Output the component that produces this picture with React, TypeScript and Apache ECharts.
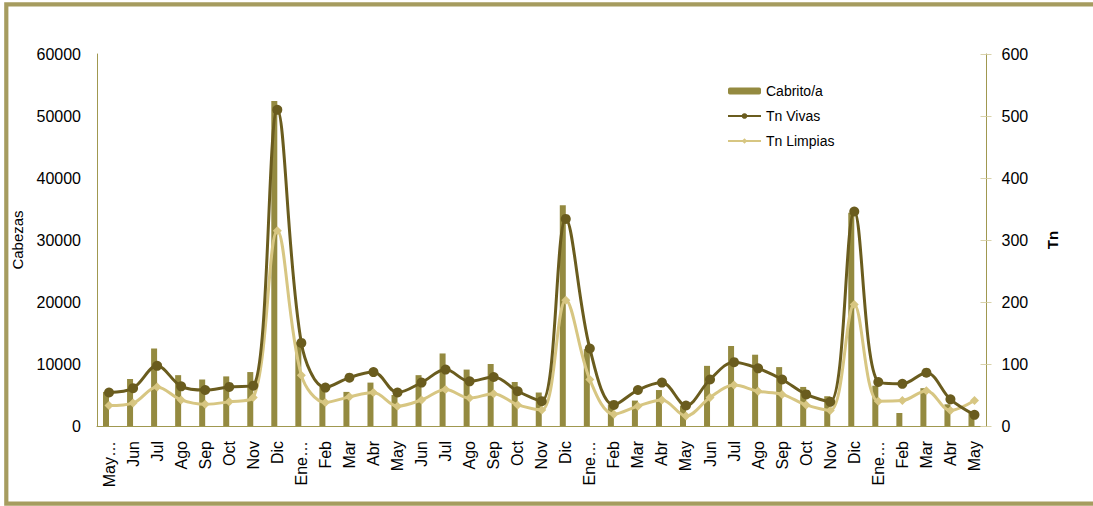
import React, { useEffect, useRef } from "react";
import * as echarts from "echarts";

const categories = ["May…","Jun","Jul","Ago","Sep","Oct","Nov","Dic","Ene…","Feb","Mar","Abr","May","Jun","Jul","Ago","Sep","Oct","Nov","Dic","Ene…","Feb","Mar","Abr","May","Jun","Jul","Ago","Sep","Oct","Nov","Dic","Ene…","Feb","Mar","Abr","May"];
const cabrito = [5500, 7600, 12500, 8200, 7500, 8000, 8700, 52400, 13500, 6300, 5500, 7000, 5000, 8200, 11700, 9100, 10000, 7100, 5400, 35600, 12400, 3500, 4100, 5800, 3300, 9700, 12900, 11500, 9500, 6300, 4800, 34400, 6500, 2100, 6100, 3500, 2200];
const tnVivas = [54, 61, 97, 64, 58, 63, 65, 510, 134, 62, 78, 87, 54, 70, 91, 72, 79, 56, 40, 334, 125, 34, 58, 70, 33, 75, 103, 93, 75, 51, 39, 346, 71, 68, 86, 43, 18];
const tnLimpias = [33, 37, 63, 42, 35, 39, 46, 315, 82, 38, 47, 54, 32, 42, 59, 45, 52, 34, 26, 203, 75, 19, 32, 42, 16, 46, 66, 56, 51, 34, 25, 196, 40, 41, 57, 25, 41];
const seriesNames = ["Cabrito/a", "Tn Vivas", "Tn Limpias"];

const FONT = "'Liberation Sans', Arial, sans-serif";
const BAR = "#948A40";
const DARK = "#6A5C1E";
const LIGHT = "#D7C682";
const AXIS = "#A09850";
const FRAME = "#A69C5F";

export default function App() {
  const ref = useRef<HTMLDivElement>(null);
  useEffect(() => {
    if (!ref.current) return;
    const chart = echarts.init(ref.current, undefined, { renderer: "svg" });
    chart.setOption({
      animation: false,
      backgroundColor: "#fff",
      textStyle: { fontFamily: FONT },
      graphic: [
        {
          type: "rect",
          shape: { x: 6.3, y: 4.4, width: 1200, height: 499.2 },
          style: { fill: "none", stroke: FRAME, lineWidth: 4.2 },
          silent: true,
          z: 100,
        },
      ],
      legend: {
        data: seriesNames,
        orient: "vertical",
        left: 722,
        top: 79,
        itemWidth: 33,
        itemHeight: 7,
        itemGap: 11,
        textStyle: { fontSize: 14, color: "#000", fontFamily: FONT },
      },
      grid: { left: 97, right: 106.5, top: 54, bottom: 80 },
      xAxis: {
        type: "category",
        data: categories,
        boundaryGap: true,
        axisLine: { lineStyle: { color: AXIS, width: 1 } },
        axisTick: { show: false },
        axisLabel: { interval: 0, rotate: 90, fontSize: 16, color: "#000", margin: 15, fontFamily: FONT },
      },
      yAxis: [
        {
          type: "value",
          min: 0,
          max: 60000,
          interval: 10000,
          position: "left",
          name: "Cabezas",
          nameLocation: "middle",
          nameGap: 72,
          nameTextStyle: { fontSize: 15, color: "#000", fontFamily: FONT },
          axisLine: { show: true, lineStyle: { color: AXIS, width: 1 } },
          axisTick: { show: false },
          splitLine: { show: false },
          axisLabel: { fontSize: 16, color: "#000", margin: 16, fontFamily: FONT, formatter: (v: number) => String(v) },
        },
        {
          type: "value",
          min: 0,
          max: 600,
          interval: 100,
          position: "right",
          name: "Tn",
          nameLocation: "middle",
          nameGap: 58,
          nameTextStyle: { fontSize: 15, fontWeight: "bold", color: "#000", fontFamily: FONT },
          axisLine: { show: true, lineStyle: { color: AXIS, width: 1 } },
          axisTick: { show: true, length: 5, lineStyle: { color: "#D9D2AA" } },
          splitLine: { show: false },
          axisLabel: { fontSize: 16, color: "#000", margin: 15, fontFamily: FONT, formatter: (v: number) => String(v) },
        },
        {
          type: "value",
          min: 0,
          max: 600,
          interval: 100,
          position: "right",
          axisLine: { show: false },
          axisTick: { show: true, inside: true, length: 6, lineStyle: { color: "#D9D2AA" } },
          axisLabel: { show: false },
          splitLine: { show: false },
        },
      ],
      series: [
        {
          name: seriesNames[0],
          type: "bar",
          data: cabrito,
          barWidth: 6,
          barGap: "0%",
          itemStyle: { color: BAR },
          z: 1,
        },
        {
          name: "_empty",
          type: "bar",
          data: categories.map(() => "-"),
          barWidth: 6,
          barGap: "0%",
          itemStyle: { color: "transparent" },
          silent: true,
        },
        {
          name: seriesNames[1],
          type: "line",
          yAxisIndex: 1,
          data: tnVivas,
          smooth: 0.35,
          symbol: "circle",
          symbolSize: 10,
          lineStyle: { color: DARK, width: 3 },
          itemStyle: { color: DARK },
          z: 3,
        },
        {
          name: seriesNames[2],
          type: "line",
          yAxisIndex: 1,
          data: tnLimpias,
          smooth: 0.35,
          symbol: "diamond",
          symbolSize: 9,
          lineStyle: { color: LIGHT, width: 3 },
          itemStyle: { color: LIGHT },
          z: 2,
        },
      ],
    });
    return () => chart.dispose();
  }, []);
  return (
    <div
      ref={ref}
      style={{ position: "fixed", left: 0, top: 0, width: 1093, height: 506 }}
    />
  );
}
